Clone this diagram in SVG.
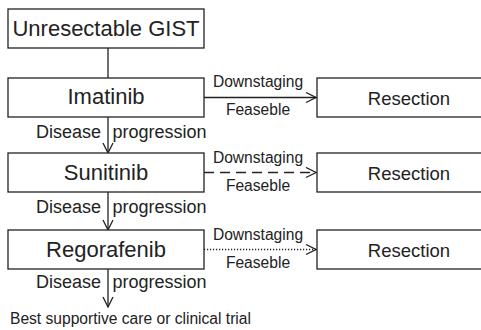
<svg xmlns="http://www.w3.org/2000/svg" width="481" height="330" viewBox="0 0 481 330">
  <defs>
    <style>
      rect.box { fill: #fff; stroke: #222; stroke-width: 1.3; }
      .main { font-family: "Liberation Sans", Arial, sans-serif; font-size: 22px; fill: #222; text-anchor: middle; }
      .res { font-family: "Liberation Sans", Arial, sans-serif; font-size: 18.5px; fill: #222; text-anchor: middle; }
      .lbl { font-family: "Liberation Sans", Arial, sans-serif; font-size: 15.6px; fill: #222; }
      .prog { font-family: "Liberation Sans", Arial, sans-serif; font-size: 18px; fill: #222; }
      .edge { stroke: #222; stroke-width: 1.3; fill: none; }
      .dashed { stroke-dasharray: 10 6; }
      .dotted { stroke-dasharray: 1.2 1.8; }
    </style>
    <marker id="arrow" viewBox="0 0 12 12" refX="11" refY="6" markerWidth="12" markerHeight="12" markerUnits="userSpaceOnUse" orient="auto">
      <path d="M1,1 L11,6 L1,11" fill="none" stroke="#222" stroke-width="1.3"/>
    </marker>
  </defs>

  <!-- connectors and their labels -->
  <g id="connectors">
    <line class="edge" x1="108" y1="48" x2="108" y2="78"/>
    <line class="edge" x1="108" y1="117" x2="108" y2="153" marker-end="url(#arrow)"/>
    <line class="edge" x1="108" y1="192" x2="108" y2="230" marker-end="url(#arrow)"/>
    <line class="edge" x1="108" y1="269" x2="108" y2="307" marker-end="url(#arrow)"/>
    <line class="edge" x1="204" y1="97.5" x2="316" y2="97.5" marker-end="url(#arrow)"/>
    <line class="edge dashed" x1="204" y1="172.5" x2="316" y2="172.5" marker-end="url(#arrow)"/>
    <line class="edge dotted" x1="204" y1="249.5" x2="316" y2="249.5" marker-end="url(#arrow)"/>

    <text class="prog" x="101" y="137.5" text-anchor="end">Disease</text>
    <text class="prog" x="112.5" y="137.5">progression</text>
    <text class="prog" x="101" y="213" text-anchor="end">Disease</text>
    <text class="prog" x="112.5" y="213">progression</text>
    <text class="prog" x="101" y="288" text-anchor="end">Disease</text>
    <text class="prog" x="112.5" y="288">progression</text>

    <text class="lbl" x="258" y="87" text-anchor="middle">Downstaging</text>
    <text class="lbl" x="258" y="115" text-anchor="middle">Feaseble</text>
    <text class="lbl" x="258" y="163" text-anchor="middle">Downstaging</text>
    <text class="lbl" x="258" y="191" text-anchor="middle">Feaseble</text>
    <text class="lbl" x="258" y="240" text-anchor="middle">Downstaging</text>
    <text class="lbl" x="258" y="268" text-anchor="middle">Feaseble</text>
  </g>

  <g id="unresectable">
    <rect class="box" x="8" y="9" width="196" height="39"/>
    <text class="main" x="106" y="35.5">Unresectable GIST</text>
  </g>
  <g id="imatinib">
    <rect class="box" x="8" y="78" width="196" height="39"/>
    <text class="main" x="106" y="104">Imatinib</text>
  </g>
  <g id="sunitinib">
    <rect class="box" x="8" y="153" width="196" height="39"/>
    <text class="main" x="106" y="180">Sunitinib</text>
  </g>
  <g id="regorafenib">
    <rect class="box" x="8" y="230" width="196" height="39"/>
    <text class="main" x="106" y="256.5">Regorafenib</text>
  </g>

  <g id="resection1">
    <rect class="box" x="317" y="78" width="184" height="39"/>
    <text class="res" x="409" y="105">Resection</text>
  </g>
  <g id="resection2">
    <rect class="box" x="317" y="153" width="184" height="39"/>
    <text class="res" x="409" y="180">Resection</text>
  </g>
  <g id="resection3">
    <rect class="box" x="317" y="230" width="184" height="39"/>
    <text class="res" x="409" y="257">Resection</text>
  </g>

  <g id="outcome">
    <text class="lbl" x="10" y="324">Best supportive care or clinical trial</text>
  </g>
</svg>
